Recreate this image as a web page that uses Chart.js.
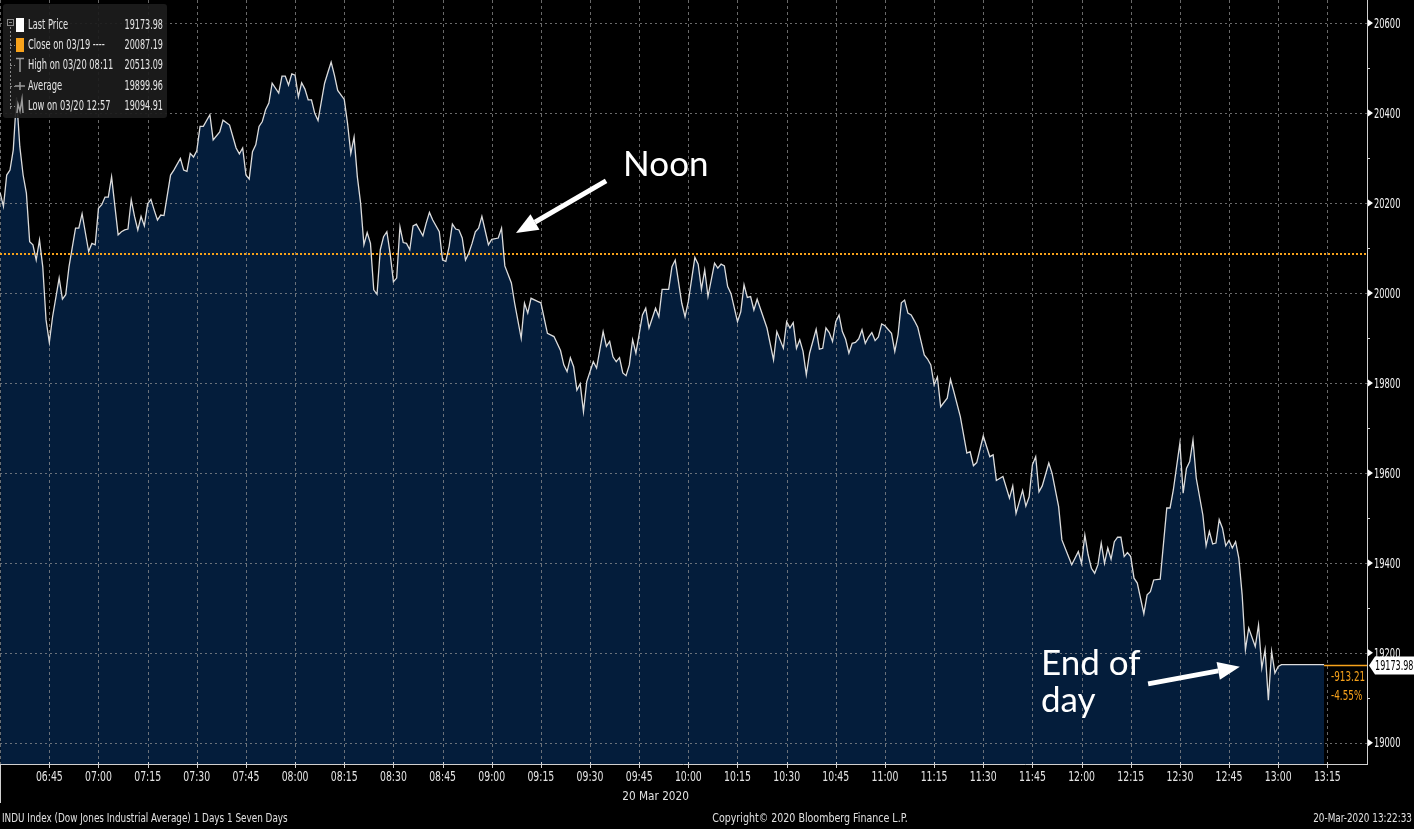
<!DOCTYPE html>
<html>
<head>
<meta charset="utf-8">
<script src="https://cdn.jsdelivr.net/npm/chart.js@4.4.1/dist/chart.umd.min.js"></script>
<style>
    html, body { margin: 0; padding: 0; background: #000; }
    #wrap { width: 1414px; height: 829px; }
</style>
</head>
<body>
<div id="wrap"><canvas id="indu_chart" width="1414" height="829"></canvas></div>
<script>
// INDU intraday, 20 Mar 2020 (times as shown on the terminal)
const openTime = '06:30';

// minutes after the open
const tradeMinute = [
    0, 1, 2, 3, 4, 5, 6, 7, 8, 9,
    10, 11, 12, 13, 14, 15, 16, 18, 19, 20,
    21, 23, 24, 25, 27, 28, 29, 30, 31, 32,
    33, 34, 36, 37, 38, 39, 40, 41, 42, 43,
    44, 45, 46, 47, 48, 49, 50, 52, 53, 55,
    56, 57, 58, 59, 60, 61, 62, 64, 65, 67,
    68, 70, 72, 73, 74, 75, 76, 77, 78, 79,
    80, 81, 82, 83, 85, 86, 87, 88, 89, 90,
    91, 92, 93, 94, 95, 96, 97, 99, 100, 101,
    102, 103, 105, 106, 107, 108, 109, 110, 111, 112,
    113, 114, 115, 116, 117, 118, 119, 120, 121, 122,
    123, 124, 125, 126, 127, 129, 130, 131, 132, 134,
    135, 136, 137, 138, 139, 140, 141, 142, 143, 144,
    145, 146, 147, 149, 150, 152, 153, 154, 156, 157,
    159, 160, 161, 162, 164, 165, 167, 169, 171, 172,
    173, 174, 175, 176, 177, 178, 179, 181, 182, 184,
    185, 186, 187, 188, 189, 190, 191, 192, 193, 194,
    196, 197, 198, 200, 201, 202, 204, 205, 206, 208,
    209, 210, 212, 213, 214, 215, 216, 218, 219, 220,
    221, 222, 223, 225, 226, 227, 228, 229, 230, 231,
    234, 236, 237, 239, 240, 241, 242, 243, 244, 245,
    246, 247, 249, 250, 251, 252, 253, 254, 255, 256,
    257, 258, 259, 260, 261, 262, 263, 264, 265, 266,
    267, 268, 269, 270, 272, 273, 274, 275, 276, 277,
    278, 279, 280, 282, 283, 284, 285, 286, 287, 289,
    290, 291, 293, 295, 296, 297, 298, 300, 302, 303,
    304, 306, 308, 309, 310, 312, 313, 314, 315, 316,
    317, 318, 320, 321, 323, 324, 326, 327, 329, 330,
    331, 332, 333, 334, 335, 336, 337, 338, 339, 340,
    341, 342, 343, 344, 345, 346, 347, 349, 350, 351,
    352, 354, 356, 357, 358, 360, 361, 362, 363, 364,
    365, 367, 368, 369, 370, 371, 372, 373, 374, 375,
    376, 377, 378, 379, 380, 381, 383, 384, 385, 386,
    387, 388, 389, 390, 391, 404
];

const lastPrice = [
    20222, 20192, 20262, 20273, 20318, 20435, 20325, 20262, 20222, 20114,
    20107, 20073, 20118, 20058, 19940, 19890, 19947, 20033, 19986, 19996,
    20058, 20144, 20144, 20176, 20092, 20110, 20107, 20188, 20196, 20213,
    20213, 20258, 20129, 20136, 20140, 20142, 20207, 20170, 20140, 20170,
    20149, 20198, 20208, 20184, 20162, 20173, 20172, 20262, 20273, 20299,
    20273, 20270, 20310, 20302, 20316, 20370, 20370, 20396, 20340, 20358,
    20384, 20373, 20322, 20309, 20322, 20262, 20253, 20314, 20329, 20370,
    20381, 20407, 20422, 20466, 20444, 20482, 20482, 20462, 20487, 20484,
    20436, 20467, 20453, 20429, 20429, 20399, 20383, 20466, 20490, 20513.09,
    20484, 20450, 20430, 20377, 20310, 20346, 20258, 20199, 20107, 20134,
    20110, 20007, 19997, 20096, 20125, 20136, 20088, 20025, 20033, 20147,
    20112, 20110, 20096, 20149, 20153, 20127, 20155, 20179, 20162, 20136,
    20073, 20070, 20103, 20153, 20142, 20140, 20122, 20073, 20088, 20110,
    20136, 20144, 20170, 20107, 20119, 20122, 20144, 20060, 20022, 19977,
    19899, 19977, 19955, 19988, 19981, 19978, 19910, 19903, 19872, 19840,
    19825, 19856, 19836, 19784, 19798, 19736, 19803, 19847, 19833, 19914,
    19881, 19892, 19858, 19847, 19856, 19822, 19816, 19840, 19896, 19866,
    19951, 19966, 19922, 19966, 19947, 20008, 20008, 20058, 20073, 19977,
    19947, 19981, 20079, 20064, 20008, 20051, 19992, 20066, 20055, 20064,
    20060, 20014, 19999, 19936, 19958, 20018, 19990, 19992, 19962, 19986,
    19922, 19851, 19914, 19877, 19936, 19922, 19934, 19877, 19896, 19870,
    19818, 19866, 19919, 19875, 19877, 19922, 19912, 19892, 19936, 19951,
    19914, 19897, 19866, 19888, 19890, 19898, 19918, 19888, 19902, 19912,
    19894, 19902, 19931, 19927, 19910, 19870, 19907, 19978, 19984, 19955,
    19951, 19938, 19924, 19862, 19853, 19840, 19796, 19813, 19747, 19766,
    19808, 19781, 19725, 19644, 19647, 19616, 19623, 19682, 19636, 19640,
    19583, 19592, 19544, 19571, 19510, 19561, 19526, 19547, 19618, 19636,
    19558, 19571, 19622, 19599, 19525, 19451, 19414, 19396, 19425, 19399,
    19462, 19418, 19388, 19377, 19396, 19444, 19399, 19433, 19408, 19447,
    19457, 19457, 19414, 19423, 19414, 19366, 19355, 19287, 19329, 19336,
    19362, 19364, 19522, 19522, 19562, 19666, 19555, 19610, 19625, 19673,
    19588, 19507, 19438, 19470, 19442, 19444, 19496, 19477, 19438, 19450,
    19433, 19447, 19410, 19329, 19207, 19255, 19214, 19262, 19166, 19207,
    19094.91, 19203, 19155, 19170, 19174, 19173.98
];

const xTickLabels = ['06:45', '07:00', '07:15', '07:30', '07:45', '08:00', '08:15', '08:30', '08:45',
    '09:00', '09:15', '09:30', '09:45', '10:00', '10:15', '10:30', '10:45', '11:00', '11:15',
    '11:30', '11:45', '12:00', '12:15', '12:30', '12:45', '13:00', '13:15'];
const yTicks = [19000, 19100, 19200, 19300, 19400, 19500, 19600, 19700, 19800,
    19900, 20000, 20100, 20200, 20300, 20400, 20500, 20600];

const prevClose = 20087.19;
const lastValue = 19173.98;
const netChange = '-913.21';
const pctChange = '-4.55%';

const legendLabels = ['Last Price', 'Close on 03/19 ----', 'High on 03/20 08:11', 'Average', 'Low on 03/20 12:57'];
const legendValues = ['19173.98', '20087.19', '20513.09', '19899.96', '19094.91'];

const dateLabel = '20 Mar 2020';
const footerLeft = 'INDU Index (Dow Jones Industrial Average) 1 Days 1 Seven Days';
const footerMid = 'Copyright\u00A9 2020 Bloomberg Finance L.P.';
const footerRight = '20-Mar-2020 13:22:33';

const NARROW = "'Liberation Sans Narrow', 'DejaVu Sans Condensed', 'Arial Narrow', sans-serif";
const ORANGE = '#f7a21b';

function toMinutes(label) {
    const p = label.split(':');
    return Number(p[0]) * 60 + Number(p[1]);
}
function toLabel(min) {
    const h = Math.floor(min / 60);
    const m = Math.round(min % 60);
    return String(h).padStart(2, '0') + ':' + String(m).padStart(2, '0');
}

const openMinute = toMinutes(openTime);
const points = tradeMinute.map((m, i) => ({ x: openMinute + m, y: lastPrice[i] }));
const xTickMinutes = xTickLabels.map(toMinutes);

// terminal font is very narrow, so squeeze the text sideways
function narrowText(ctx, text, x, y, size, sx, align) {
    ctx.save();
    ctx.font = size + 'px ' + NARROW;
    ctx.textAlign = align || 'left';
    ctx.textBaseline = 'middle';
    ctx.translate(x, y);
    ctx.scale(sx, 1);
    ctx.fillText(text, 0, 0);
    ctx.restore();
}

function drawArrow(ctx, x1, y1, x2, y2) {
    const ang = Math.atan2(y2 - y1, x2 - x1);
    const head = 22, half = 9;
    const bx = x2 - head * Math.cos(ang);
    const by = y2 - head * Math.sin(ang);
    ctx.strokeStyle = '#fff';
    ctx.fillStyle = '#fff';
    ctx.lineWidth = 5;
    ctx.beginPath();
    ctx.moveTo(x1, y1);
    ctx.lineTo(bx, by);
    ctx.stroke();
    ctx.beginPath();
    ctx.moveTo(x2, y2);
    ctx.lineTo(bx + half * Math.sin(ang), by - half * Math.cos(ang));
    ctx.lineTo(bx - half * Math.sin(ang), by + half * Math.cos(ang));
    ctx.closePath();
    ctx.fill();
}

// grid, close line, axis furniture, legend box and notes
const terminalLook = {
    id: 'terminalLook',
    beforeDraw(chart) {
        const ctx = chart.ctx;
        ctx.save();
        ctx.fillStyle = '#000';
        ctx.fillRect(0, 0, chart.width, chart.height);
        ctx.restore();
    },
    afterDatasetDraw(chart, args) {
        if (args.index !== 0) return;  // after the area fill, before the price line
        const ctx = chart.ctx, area = chart.chartArea;
        const xs = chart.scales.x, ys = chart.scales.y;
        ctx.save();
        ctx.beginPath();
        ctx.rect(area.left, area.top, area.right - area.left, area.bottom - area.top);
        ctx.clip();
        ctx.lineWidth = 1;
        ctx.strokeStyle = 'rgba(150,150,150,0.7)';
        ctx.setLineDash([3, 3]);
        xTickMinutes.concat([openMinute]).forEach(m => {
            const px = Math.round(xs.getPixelForValue(m)) + 0.5;
            ctx.beginPath();
            ctx.moveTo(px, area.top);
            ctx.lineTo(px, area.bottom);
            ctx.stroke();
        });
        ctx.setLineDash([2, 3]);
        yTicks.filter(v => v % 200 === 0).forEach(v => {
            const py = Math.round(ys.getPixelForValue(v)) + 0.5;
            ctx.beginPath();
            ctx.moveTo(area.left, py);
            ctx.lineTo(area.right, py);
            ctx.stroke();
        });
        // previous close
        ctx.strokeStyle = ORANGE;
        ctx.lineWidth = 2;
        ctx.setLineDash([2, 2]);
        const cy = Math.round(ys.getPixelForValue(prevClose));
        ctx.beginPath();
        ctx.moveTo(area.left, cy);
        ctx.lineTo(area.right, cy);
        ctx.stroke();
        ctx.restore();
    },
    afterDraw(chart) {
        const ctx = chart.ctx, area = chart.chartArea;
        const xs = chart.scales.x, ys = chart.scales.y;
        ctx.save();

        // axis lines and tick marks
        ctx.strokeStyle = '#d0d0d0';
        ctx.lineWidth = 1;
        ctx.beginPath();
        ctx.moveTo(area.right + 0.5, 0);
        ctx.lineTo(area.right + 0.5, area.bottom + 1);
        ctx.moveTo(0, area.bottom + 0.5);
        ctx.lineTo(area.right, area.bottom + 0.5);
        ctx.moveTo(0.5, area.bottom);
        ctx.lineTo(0.5, area.bottom + 39);
        xTickMinutes.forEach(m => {
            const px = Math.round(xs.getPixelForValue(m)) + 0.5;
            ctx.moveTo(px, area.bottom - 2);
            ctx.lineTo(px, area.bottom + 4);
        });
        yTicks.filter(v => v % 200 !== 0).forEach(v => {
            const py = Math.round(ys.getPixelForValue(v)) + 0.5;
            ctx.moveTo(area.right, py);
            ctx.lineTo(area.right + 3, py);
        });
        ctx.stroke();
        ctx.fillStyle = '#fff';
        yTicks.filter(v => v % 200 === 0).forEach(v => {
            const py = ys.getPixelForValue(v);
            ctx.beginPath();
            ctx.moveTo(area.right + 1, py - 3.5);
            ctx.lineTo(area.right + 6, py);
            ctx.lineTo(area.right + 1, py + 3.5);
            ctx.closePath();
            ctx.fill();
        });

        // tick labels
        ctx.fillStyle = '#f2f2f2';
        yTicks.filter(v => v % 200 === 0).forEach(v => {
            narrowText(ctx, String(v), area.right + 7, ys.getPixelForValue(v) + 1, 14, 0.66, 'left');
        });
        ctx.fillStyle = '#e4e4e4';
        xTickMinutes.forEach(m => {
            narrowText(ctx, toLabel(m), xs.getPixelForValue(m), area.bottom + 13, 14, 0.74, 'center');
        });

        // last price line, tag and change
        const ly = Math.round(ys.getPixelForValue(lastValue)) + 0.5;
        const lx = xs.getPixelForValue(points[points.length - 1].x);
        ctx.strokeStyle = ORANGE;
        ctx.lineWidth = 1.5;
        ctx.beginPath();
        ctx.moveTo(lx, ly);
        ctx.lineTo(area.right, ly);
        ctx.stroke();
        ctx.fillStyle = '#fff';
        ctx.beginPath();
        ctx.moveTo(area.right + 2, ly);
        ctx.lineTo(area.right + 8, ly - 9);
        ctx.lineTo(chart.width, ly - 9);
        ctx.lineTo(chart.width, ly + 9);
        ctx.lineTo(area.right + 8, ly + 9);
        ctx.closePath();
        ctx.fill();
        ctx.fillStyle = '#000';
        narrowText(ctx, lastValue.toFixed(2), area.right + 8, ly + 1, 14, 0.64, 'left');
        ctx.fillStyle = ORANGE;
        narrowText(ctx, netChange, lx + 7, ly + 12, 14, 0.7, 'left');
        narrowText(ctx, pctChange, lx + 7, ly + 31, 14, 0.7, 'left');

        // legend box
        ctx.fillStyle = 'rgba(28,28,28,0.92)';
        ctx.beginPath();
        ctx.roundRect(3, 4, 164, 114, 3);
        ctx.fill();
        const rowY = [25, 45, 65, 86, 106];
        ctx.strokeStyle = '#8a8a8a';
        ctx.lineWidth = 1;
        ctx.setLineDash([2, 2]);
        ctx.beginPath();
        ctx.moveTo(10.5, 27);
        ctx.lineTo(10.5, 110);
        rowY.slice(1).forEach(y => {
            ctx.moveTo(10, y + 0.5);
            ctx.lineTo(15, y + 0.5);
        });
        ctx.stroke();
        ctx.setLineDash([]);
        ctx.strokeRect(7.5, 19.5, 6, 6);
        ctx.beginPath();
        ctx.moveTo(9, 22.5);
        ctx.lineTo(12, 22.5);
        ctx.stroke();
        ctx.fillStyle = '#fff';
        ctx.fillRect(16, 18, 8, 14);
        ctx.fillStyle = ORANGE;
        ctx.fillRect(16, 38, 8, 14);
        ctx.strokeStyle = '#9a9a9a';
        ctx.lineWidth = 1.5;
        ctx.beginPath();
        ctx.moveTo(16, 58.5);
        ctx.lineTo(24, 58.5);
        ctx.moveTo(20, 58);
        ctx.lineTo(20, 72);
        ctx.moveTo(15, 86);
        ctx.lineTo(25, 86);
        ctx.moveTo(20, 82);
        ctx.lineTo(20, 90);
        ctx.moveTo(17, 113);
        ctx.lineTo(18, 104);
        ctx.lineTo(20, 111);
        ctx.lineTo(22, 99);
        ctx.lineTo(23, 113);
        ctx.stroke();
        ctx.fillStyle = '#e4e4e4';
        rowY.forEach((y, i) => {
            narrowText(ctx, legendLabels[i], 28, y, 14, 0.66, 'left');
            narrowText(ctx, legendValues[i], 163, y, 14, 0.64, 'right');
        });

        // notes
        ctx.fillStyle = '#fff';
        ctx.font = '35px Lato, "Open Sans", sans-serif';
        ctx.textAlign = 'left';
        ctx.textBaseline = 'alphabetic';
        ctx.fillText('Noon', xs.getPixelForValue(580.1), ys.getPixelForValue(20260));
        ctx.fillText('End of', xs.getPixelForValue(707.6), ys.getPixelForValue(19151));
        ctx.fillText('day', xs.getPixelForValue(707.6), ys.getPixelForValue(19069));
        drawArrow(ctx, xs.getPixelForValue(574.9), ys.getPixelForValue(20249),
            xs.getPixelForValue(547.4), ys.getPixelForValue(20133));
        drawArrow(ctx, xs.getPixelForValue(740.3), ys.getPixelForValue(19131),
            xs.getPixelForValue(768.3), ys.getPixelForValue(19169));

        // date and footer
        ctx.fillStyle = '#e0e0e0';
        narrowText(ctx, dateLabel, xs.getPixelForValue(590), 797, 13, 0.9, 'center');
        narrowText(ctx, footerMid, 810, 819, 12, 0.88, 'center');
        narrowText(ctx, footerLeft, 2, 819, 12, 0.82, 'left');
        narrowText(ctx, footerRight, 1412, 819, 12, 0.82, 'right');
        ctx.restore();
    }
};

const ctx = document.getElementById('indu_chart').getContext('2d');
const induChart = new Chart(ctx, {
    type: 'line',
    data: {
        datasets: [{
            data: points,
            fill: 'start',
            backgroundColor: '#041d3b',
            borderWidth: 0,
            pointRadius: 0,
            tension: 0,
            order: 2
        }, {
            data: points,
            fill: false,
            borderColor: '#dcdcdc',
            borderWidth: 1.3,
            pointRadius: 0,
            tension: 0,
            order: 1
        }]
    },
    options: {
        responsive: false,
        animation: false,
        layout: { padding: 0 },
        plugins: {
            legend: { display: false },
            tooltip: { enabled: false }
        },
        scales: {
            x: {
                type: 'linear',
                min: 389.95,
                max: 807.1,
                grid: { display: false, drawTicks: false },
                border: { display: false },
                afterBuildTicks: scale => { scale.ticks = xTickMinutes.map(v => ({ value: v })); },
                afterFit: scale => {
                    scale.height = 65;
                    scale.paddingLeft = 0;
                    scale.paddingRight = 0;
                },
                ticks: { display: false }
            },
            y: {
                position: 'right',
                min: 18953,
                max: 20651,
                grid: { display: false, drawTicks: false },
                border: { display: false },
                afterBuildTicks: scale => { scale.ticks = yTicks.map(v => ({ value: v })); },
                afterFit: scale => {
                    scale.width = 47;
                    scale.paddingTop = 0;
                    scale.paddingBottom = 0;
                },
                ticks: { display: false }
            }
        }
    },
    plugins: [terminalLook]
});
</script>
</body>
</html>
